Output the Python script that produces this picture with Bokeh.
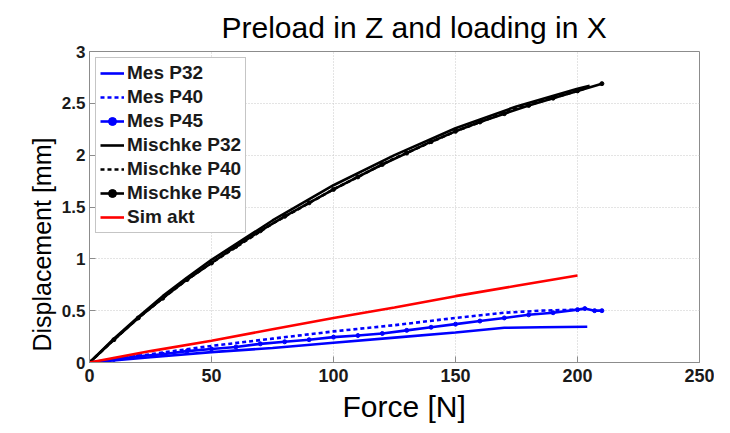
from bokeh.plotting import figure
from bokeh.models import FixedTicker, Title, Range1d
from bokeh.embed import file_html
from bokeh.resources import INLINE

# ---- data ----
mes_f32 = [0, 25, 50, 75, 100, 125, 150, 170, 185, 204]
mes_d32 = [0, 0.05, 0.10, 0.14, 0.19, 0.24, 0.29, 0.335, 0.34, 0.345]

mes_f40 = [0, 25, 50, 75, 100, 125, 150, 170, 185, 200]
mes_d40 = [0, 0.08, 0.16, 0.23, 0.30, 0.36, 0.43, 0.48, 0.50, 0.51]

mes_f45 = [0, 10, 20, 30, 40, 50, 60, 70, 80, 90, 100, 110, 120, 130, 140, 150, 160, 170, 180, 190, 200, 203, 207, 210]
mes_d45 = [0, 0.03, 0.06, 0.08, 0.11, 0.13, 0.15, 0.18, 0.20, 0.22, 0.245, 0.26, 0.28, 0.31, 0.34, 0.37, 0.40, 0.43, 0.46, 0.48, 0.51, 0.52, 0.50, 0.50]

mis_f32 = [0, 10, 20, 30, 40, 50, 75, 100, 125, 150, 175, 200, 205]
mis_d32 = [0, 0.23, 0.44, 0.64, 0.82, 0.99, 1.37, 1.71, 2.00, 2.26, 2.47, 2.64, 2.67]

mis_f40 = [0, 10, 20, 30, 40, 50, 75, 100, 125, 150, 175, 200, 204]
mis_d40 = [0, 0.22, 0.43, 0.62, 0.80, 0.96, 1.34, 1.67, 1.97, 2.23, 2.45, 2.62, 2.65]

mis_f45 = [0, 10, 20, 30, 40, 50, 60, 70, 80, 90, 100, 110, 120, 130, 140, 150, 160, 170, 180, 190, 200, 210]
mis_d45 = [0, 0.22, 0.43, 0.62, 0.80, 0.96, 1.12, 1.27, 1.41, 1.54, 1.67, 1.79, 1.91, 2.02, 2.13, 2.23, 2.32, 2.40, 2.48, 2.55, 2.62, 2.69]

sim_f = [0, 25, 50, 75, 100, 125, 150, 175, 200]
sim_d = [0, 0.11, 0.21, 0.32, 0.43, 0.53, 0.64, 0.74, 0.84]

x_ticks = [0, 50, 100, 150, 200, 250]
y_ticks = [0, 0.5, 1, 1.5, 2, 2.5, 3]
y_tick_labels = ["0", "0.5", "1", "1.5", "2", "2.5", "3"]

FONT = "Liberation Sans"

p = figure(width=714, height=432, output_backend="svg", toolbar_location=None,
           x_range=Range1d(0, 250), y_range=Range1d(0, 3),
           min_border_left=89, min_border_right=15, min_border_top=51, min_border_bottom=70)

p.title = Title(text="Preload in Z and loading in X", align="left", offset=132,
                text_font=FONT, text_font_size="30px", text_font_style="normal",
                text_color="black", standoff=16)

grey = "#8c8c8c"
p.outline_line_color = grey
p.background_fill_color = "white"
p.border_fill_color = "white"

for ax in [p.xaxis[0], p.yaxis[0]]:
    ax.axis_line_color = grey
    ax.major_tick_line_color = grey
    ax.major_tick_in = 6
    ax.major_tick_out = 0
    ax.minor_tick_line_color = None
    ax.major_label_text_font = FONT
    ax.major_label_text_font_style = "bold"
    ax.major_label_text_font_size = "17px"
    ax.major_label_text_color = "#1a1a1a"

p.xaxis[0].ticker = FixedTicker(ticks=x_ticks)
p.yaxis[0].ticker = FixedTicker(ticks=y_ticks)
p.yaxis[0].major_label_overrides = dict(zip(y_ticks, y_tick_labels))
p.xaxis[0].major_label_text_font_size = "18px"
p.xaxis[0].major_label_standoff = 6
p.yaxis[0].major_label_standoff = 4

# axis titles as titles (to match their off-centre placement)
p.add_layout(Title(text="Force [N]", align="left", offset=253,
                   text_font=FONT, text_font_size="30px", text_font_style="normal",
                   text_color="black", standoff=7), "below")
p.add_layout(Title(text="Displacement [mm]", align="left", offset=11,
                   text_font=FONT, text_font_size="25px", text_font_style="normal",
                   text_color="black", standoff=6), "left")

p.xgrid.grid_line_color = "#c8c8c8"
p.ygrid.grid_line_color = "#c8c8c8"
p.xgrid.grid_line_dash = "1 2"
p.ygrid.grid_line_dash = "1 2"
p.xgrid.ticker = FixedTicker(ticks=x_ticks)
p.ygrid.ticker = FixedTicker(ticks=y_ticks)

LW = 2.6
MS = 4
p.line(mes_f32, mes_d32, color="#0000ff", line_width=LW, legend_label="Mes P32")
p.line(mes_f40, mes_d40, color="#0000ff", line_width=LW, line_dash="4 3", legend_label="Mes P40")
p.line(mes_f45, mes_d45, color="#0000ff", line_width=LW, legend_label="Mes P45")
p.scatter(mes_f45, mes_d45, color="#0000ff", size=MS, marker="circle", legend_label="Mes P45")
p.line(mis_f32, mis_d32, color="black", line_width=LW, legend_label="Mischke P32")
p.line(mis_f40, mis_d40, color="black", line_width=LW, line_dash="4 3", legend_label="Mischke P40")
p.line(mis_f45, mis_d45, color="black", line_width=LW, legend_label="Mischke P45")
p.scatter(mis_f45, mis_d45, color="black", size=MS, marker="circle", legend_label="Mischke P45")
p.line(sim_f, sim_d, color="#ff0000", line_width=LW, legend_label="Sim akt")

lg = p.legend[0]
lg.location = "top_left"
lg.margin = 6
lg.padding = 4
lg.spacing = 2
lg.glyph_width = 24
lg.glyph_height = 20
lg.label_height = 20
lg.label_standoff = 3
lg.label_text_font = FONT
lg.label_text_font_style = "bold"
lg.label_text_font_size = "19px"
lg.label_text_color = "#1a1a1a"
lg.border_line_color = grey
lg.border_line_width = 1
lg.background_fill_alpha = 1

open("out.html", "w").write(file_html(p, INLINE))
